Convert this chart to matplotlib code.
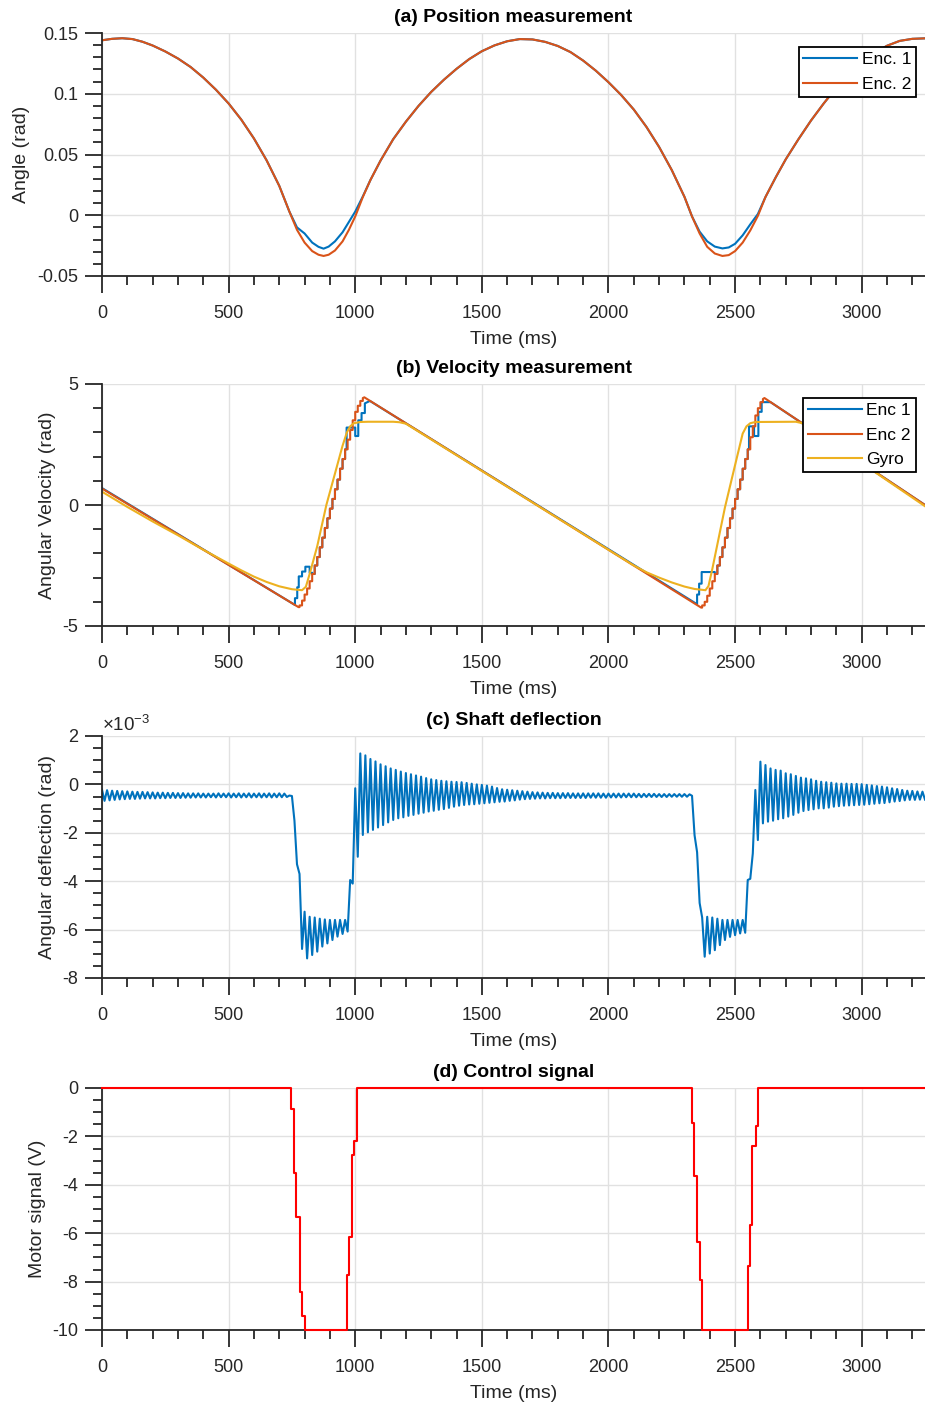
import numpy as np
import matplotlib
matplotlib.use("Agg")
import matplotlib.pyplot as plt
from matplotlib.ticker import MultipleLocator

plt.rcParams['font.family'] = ['Liberation Sans', 'DejaVu Sans']
plt.rcParams['axes.unicode_minus'] = False
plt.rcParams['mathtext.fontset'] = 'custom'
plt.rcParams['mathtext.rm'] = 'Liberation Sans'
plt.rcParams['mathtext.it'] = 'Liberation Sans:italic'

# ---------------- shared axis data ----------------
x_ticks = [0, 500, 1000, 1500, 2000, 2500, 3000]
x_tick_labels = ['0', '500', '1000', '1500', '2000', '2500', '3000']

# ---------------- (a) position ----------------
pos_t = [0, 40, 80, 120, 160, 200, 250, 300, 350, 400, 450, 500, 550, 600, 650,
         700, 740, 770, 800, 830, 855, 875, 895, 920, 950, 975, 1000, 1030, 1060,
         1100, 1150, 1200, 1250, 1300, 1350, 1400, 1450, 1500, 1550, 1600, 1650,
         1700, 1750, 1800, 1850, 1900, 1950, 2000, 2050, 2100, 2150, 2200, 2250,
         2300, 2330, 2360, 2390, 2420, 2450, 2475, 2500, 2530, 2560, 2590, 2620,
         2660, 2700, 2750, 2800, 2850, 2900, 2950, 3000, 3050, 3100, 3150, 3200, 3250]
pos_enc2 = [0.1440, 0.1452, 0.1457, 0.1450, 0.1428, 0.1397, 0.1348, 0.1290, 0.1220,
            0.1133, 0.1033, 0.0920, 0.0787, 0.0632, 0.0452, 0.0242, 0.0030, -0.0120,
            -0.0225, -0.0295, -0.0325, -0.0335, -0.0325, -0.0290, -0.0215, -0.0120,
            -0.0010, 0.0150, 0.0290, 0.0450, 0.0626, 0.0770, 0.0900, 0.1015, 0.1115,
            0.1205, 0.1285, 0.1350, 0.1398, 0.1432, 0.1450, 0.1447, 0.1427, 0.1393,
            0.1343, 0.1273, 0.1190, 0.1095, 0.0990, 0.0870, 0.0727, 0.0562, 0.0372,
            0.0152, -0.0010, -0.0150, -0.0260, -0.0315, -0.0335, -0.0328, -0.0295,
            -0.0225, -0.0125, -0.0005, 0.0150, 0.0310, 0.0460, 0.0625, 0.0780, 0.0920,
            0.1050, 0.1160, 0.1255, 0.1335, 0.1395, 0.1435, 0.1452, 0.1456]
pos_enc1 = [0.1440, 0.1452, 0.1457, 0.1450, 0.1428, 0.1397, 0.1348, 0.1290, 0.1220,
            0.1133, 0.1033, 0.0920, 0.0787, 0.0632, 0.0452, 0.0242, 0.0030, -0.0100,
            -0.0150, -0.0225, -0.0260, -0.0275, -0.0258, -0.0215, -0.0140, -0.0055,
            0.0030, 0.0155, 0.0290, 0.0450, 0.0626, 0.0770, 0.0900, 0.1015, 0.1115,
            0.1205, 0.1285, 0.1350, 0.1398, 0.1432, 0.1450, 0.1447, 0.1427, 0.1393,
            0.1343, 0.1273, 0.1190, 0.1095, 0.0990, 0.0870, 0.0727, 0.0562, 0.0372,
            0.0152, -0.0010, -0.0135, -0.0215, -0.0258, -0.0273, -0.0265, -0.0235,
            -0.0165, -0.0075, 0.0010, 0.0150, 0.0310, 0.0460, 0.0625, 0.0780, 0.0920,
            0.1050, 0.1160, 0.1255, 0.1335, 0.1395, 0.1435, 0.1452, 0.1456]
pos_yticks = [-0.05, 0, 0.05, 0.1, 0.15]
pos_ytick_labels = ['-0.05', '0', '0.05', '0.1', '0.15']

# ---------------- (b) velocity ----------------
enc2_desc0_t = [0, 776]
enc2_desc0_v = [0.68, -4.22]
enc2_rise1_t = [780, 790, 800, 810, 820, 830, 840, 850, 860, 870, 880, 890, 900,
                910, 920, 930, 940, 950, 960, 970, 980, 990, 1000, 1010, 1020, 1030]
enc2_rise1_v = [-4.15, -3.95, -3.7, -3.45, -3.15, -2.85, -2.5, -2.15, -1.75, -1.35,
                -0.95, -0.55, -0.15, 0.25, 0.65, 1.05, 1.5, 1.9, 2.3, 2.7, 3.1, 3.5,
                3.85, 4.1, 4.3, 4.42]
enc2_desc1_t = [1036, 2366]
enc2_desc1_v = [4.45, -4.24]
enc2_rise2_t = [2370, 2380, 2390, 2400, 2410, 2420, 2430, 2440, 2450, 2460, 2470,
                2480, 2490, 2500, 2510, 2520, 2530, 2540, 2550, 2560, 2570, 2580,
                2590, 2600, 2610]
enc2_rise2_v = [-4.15, -4.0, -3.75, -3.45, -3.15, -2.85, -2.5, -2.15, -1.75, -1.35,
                -0.95, -0.55, -0.15, 0.25, 0.65, 1.05, 1.5, 1.9, 2.3, 2.8, 3.25, 3.7,
                4.0, 4.25, 4.38]
enc2_desc2_t = [2616, 3250]
enc2_desc2_v = [4.42, 0.0]

enc1_desc0_t = [0, 762]
enc1_desc0_v = [0.70, -4.13]
enc1_rise1_t = [762, 771, 777, 790, 803, 820, 830, 840, 850, 860, 870, 880, 890, 900,
                910, 920, 930, 940, 950, 960, 966, 1000, 1012, 1025, 1038]
enc1_rise1_v = [-3.85, -3.4, -2.95, -2.75, -2.55, -2.8, -2.85, -2.5, -2.15, -1.75,
                -1.35, -0.95, -0.55, -0.15, 0.25, 0.65, 1.05, 1.5, 1.9, 2.3, 3.2,
                2.85, 3.5, 3.8, 4.2]
enc1_desc1_t = [1058, 2350]
enc1_desc1_v = [4.30, -4.10]
enc1_rise2_t = [2350, 2358, 2368, 2420, 2430, 2440, 2450, 2460, 2470, 2480, 2490,
                2500, 2510, 2520, 2530, 2540, 2550, 2555, 2575, 2592, 2605]
enc1_rise2_v = [-3.7, -3.25, -2.77, -2.85, -2.5, -2.15, -1.75, -1.35, -0.95, -0.55,
                -0.15, 0.25, 0.65, 1.05, 1.5, 1.9, 2.3, 3.25, 2.85, 3.85, 4.25]
enc1_desc2_t = [2640, 3250]
enc1_desc2_v = [4.25, 0.0]

gyro_t = [0, 100, 200, 300, 400, 500, 550, 600, 650, 700, 750, 790, 805, 820, 850,
          886, 920, 950, 967, 980, 995, 1020, 1050, 1150, 1175, 1200, 2100, 2150,
          2200, 2250, 2300, 2340, 2383, 2395, 2410, 2460, 2500, 2530, 2545, 2560,
          2580, 2740, 2770, 3250]
gyro_v = [0.55, -0.08, -0.68, -1.25, -1.85, -2.42, -2.70, -2.96, -3.18, -3.36, -3.48,
          -3.52, -3.38, -2.85, -1.70, 0.0, 1.3, 2.45, 3.0, 3.25, 3.38, 3.43, 3.44,
          3.44, 3.42, 3.36, -2.50, -2.78, -3.0, -3.2, -3.37, -3.47, -3.52, -3.35,
          -2.65, -0.1, 1.65, 2.95, 3.25, 3.38, 3.43, 3.44, 3.37, -0.05]
vel_yticks = [-5, 0, 5]
vel_ytick_labels = ['-5', '0', '5']

# ---------------- (c) shaft deflection (x 1e-3 rad), sampled every 10 ms ----------------
defl_t = np.arange(0, 3251, 10)
defl_v = [
    -0.22, -0.68, -0.24, -0.66, -0.26, -0.64, -0.27, -0.62, -0.28, -0.61,
    -0.29, -0.60, -0.30, -0.60, -0.31, -0.59, -0.31, -0.58, -0.32, -0.58,
    -0.33, -0.58, -0.34, -0.57, -0.34, -0.57, -0.35, -0.56, -0.35, -0.56,
    -0.36, -0.56, -0.36, -0.55, -0.37, -0.55, -0.37, -0.54, -0.37, -0.54,
    -0.38, -0.54, -0.38, -0.53, -0.38, -0.54, -0.37, -0.53, -0.38, -0.53,
    -0.37, -0.54, -0.38, -0.53, -0.37, -0.54, -0.38, -0.53, -0.37, -0.54,
    -0.38, -0.53, -0.37, -0.54, -0.38, -0.53, -0.37, -0.54, -0.38, -0.53,
    -0.37, -0.53, -0.38, -0.52, -0.46, -0.48, -1.50, -3.30, -3.70, -6.80,
    -5.26, -7.19, -5.47, -7.05, -5.50, -6.91, -5.55, -6.70, -5.58, -6.57,
    -5.60, -6.43, -5.60, -6.29, -5.60, -6.18, -5.60, -6.08, -3.95, -4.10,
    -0.16, -2.99, 1.28, -2.09, 1.20, -1.98, 1.05, -1.88, 0.95, -1.78,
    0.83, -1.68, 0.75, -1.57, 0.66, -1.47, 0.60, -1.40, 0.53, -1.36,
    0.47, -1.30, 0.42, -1.26, 0.37, -1.21, 0.32, -1.17, 0.26, -1.12,
    0.21, -1.09, 0.18, -1.05, 0.15, -1.02, 0.13, -0.97, 0.11, -0.92,
    0.10, -0.88, 0.09, -0.85, 0.06, -0.83, 0.03, -0.82, 0.00, -0.80,
    -0.02, -0.78, -0.05, -0.76, -0.09, -0.74, -0.15, -0.72, -0.20, -0.71,
    -0.22, -0.68, -0.24, -0.66, -0.26, -0.63, -0.28, -0.61, -0.30, -0.60,
    -0.32, -0.59, -0.33, -0.58, -0.34, -0.58, -0.35, -0.57, -0.35, -0.57,
    -0.36, -0.57, -0.36, -0.56, -0.36, -0.56, -0.37, -0.56, -0.37, -0.56,
    -0.37, -0.56, -0.37, -0.55, -0.37, -0.55, -0.37, -0.55, -0.38, -0.55,
    -0.38, -0.54, -0.38, -0.54, -0.38, -0.54, -0.38, -0.53, -0.38, -0.53,
    -0.38, -0.53, -0.39, -0.53, -0.39, -0.52, -0.39, -0.52, -0.39, -0.52,
    -0.40, -0.52, -0.40, -0.52, -0.40, -0.51, -0.40, -0.51, -0.40, -0.51,
    -0.40, -0.51, -0.41, -0.47, -2.10, -2.80, -4.90, -5.50, -7.12, -5.47,
    -6.99, -5.50, -6.85, -5.55, -6.64, -5.60, -6.43, -5.60, -6.30, -5.60,
    -6.23, -5.60, -6.16, -5.60, -6.13, -3.95, -3.90, -2.85, -0.23, -2.30,
    0.94, -1.61, 0.80, -1.54, 0.66, -1.50, 0.60, -1.44, 0.57, -1.40,
    0.46, -1.33, 0.42, -1.26, 0.35, -1.17, 0.28, -1.10, 0.25, -1.06,
    0.21, -1.03, 0.15, -0.99, 0.11, -0.99, 0.09, -0.96, 0.07, -0.92,
    0.04, -0.90, 0.03, -0.88, 0.03, -0.87, 0.02, -0.86, 0.02, -0.85,
    0.01, -0.84, -0.02, -0.82, -0.04, -0.80, -0.07, -0.78, -0.09, -0.77,
    -0.12, -0.74, -0.16, -0.71, -0.19, -0.69, -0.23, -0.66, -0.26, -0.64,
    -0.27, -0.64, -0.29, -0.63, -0.30, -0.63,
]
defl_yticks = [-8, -6, -4, -2, 0, 2]
defl_ytick_labels = ['-8', '-6', '-4', '-2', '0', '2']

# ---------------- (d) control signal (step changes) ----------------
ctrl_t = [0, 747, 757, 767, 780, 789, 800, 967, 976, 987, 997, 1007,
          2328, 2337, 2348, 2361, 2370, 2551, 2559, 2568, 2581, 2590, 3250]
ctrl_v = [0, -0.87, -3.5, -5.32, -8.42, -9.42, -10, -7.73, -6.14, -2.77, -2.19, 0,
          -1.46, -3.64, -6.35, -7.93, -10, -7.34, -5.66, -2.38, -1.57, 0, 0]
ctrl_yticks = [-10, -8, -6, -4, -2, 0]
ctrl_ytick_labels = ['-10', '-8', '-6', '-4', '-2', '0']

# ---------------- helpers ----------------
def compose(segments):
    xs, ys = [], []
    for kind, ts, vs in segments:
        if kind == 'line':
            xs += list(ts)
            ys += list(vs)
        else:
            for t, v in zip(ts, vs):
                if xs:
                    xs.append(t)
                    ys.append(ys[-1])
                xs.append(t)
                ys.append(v)
    return xs, ys


AX_COLOR = '#262626'
GRID_COLOR = '#e1e1e1'
C_BLUE = '#0072BD'
C_ORANGE = '#D95319'
C_YELLOW = '#EDB120'
C_RED = '#FF0000'
LW = 1.5


def style_axes(ax, ylim, yticks, ylabels, yminor, title, ylabel, ylabel_x):
    ax.set_xlim(0, 3250)
    ax.set_ylim(*ylim)
    ax.set_xticks(x_ticks)
    ax.set_xticklabels(x_tick_labels)
    ax.xaxis.set_minor_locator(MultipleLocator(100))
    ax.set_yticks(yticks)
    ax.set_yticklabels(ylabels)
    ax.yaxis.set_minor_locator(MultipleLocator(yminor))
    for s in ['top', 'right']:
        ax.spines[s].set_visible(False)
    for s in ['left', 'bottom']:
        ax.spines[s].set_color(AX_COLOR)
        ax.spines[s].set_linewidth(1.3)
    ax.tick_params(which='major', direction='out', length=12, width=1.3,
                   color=AX_COLOR, labelcolor=AX_COLOR, labelsize=13)
    ax.tick_params(axis='x', which='major', pad=9)
    ax.tick_params(axis='y', which='major', pad=5)
    ax.tick_params(which='minor', direction='out', length=6.7, width=1.3, color=AX_COLOR)
    ax.grid(True, which='major', color=GRID_COLOR, lw=1.0)
    ax.set_axisbelow(True)
    ax.set_title(title, fontsize=14, fontweight='bold', pad=8, color='black')
    ax.set_xlabel('Time (ms)', fontsize=14, color=AX_COLOR)
    ax.xaxis.set_label_coords(0.5, -0.226)
    ax.set_ylabel(ylabel, fontsize=14, color=AX_COLOR)
    ax.yaxis.set_label_coords(ylabel_x, 0.5)


def style_legend(leg):
    fr = leg.get_frame()
    fr.set_edgecolor('black')
    fr.set_linewidth(1.3)
    fr.set_facecolor('white')
    fr.set_alpha(1)


fig = plt.figure(figsize=(9.25, 14.03), dpi=100)
L, W = 102 / 925, 823 / 925
ax_a = fig.add_axes([L, 1 - 276 / 1403, W, 243 / 1403])
ax_b = fig.add_axes([L, 1 - 626 / 1403, W, 242 / 1403])
ax_c = fig.add_axes([L, 1 - 978 / 1403, W, 242 / 1403])
ax_d = fig.add_axes([L, 1 - 1330 / 1403, W, 242 / 1403])

leg_kw = dict(loc='upper right', fontsize=12.5, handlelength=3.1, handletextpad=0.25,
              borderpad=0.28, labelspacing=0.55, borderaxespad=0, fancybox=False,
              framealpha=1)

# (a)
ax_a.plot(pos_t, pos_enc1, color=C_BLUE, lw=LW, label='Enc. 1')
ax_a.plot(pos_t, pos_enc2, color=C_ORANGE, lw=LW, label='Enc. 2')
style_axes(ax_a, (-0.05, 0.15), pos_yticks, pos_ytick_labels, 0.01,
           '(a) Position measurement', 'Angle (rad)', -0.0875)
style_legend(ax_a.legend(bbox_to_anchor=(0.989, 0.942), **leg_kw))

# (b)
e1x, e1y = compose([('line', enc1_desc0_t, enc1_desc0_v), ('step', enc1_rise1_t, enc1_rise1_v),
                    ('line', enc1_desc1_t, enc1_desc1_v), ('step', enc1_rise2_t, enc1_rise2_v),
                    ('line', enc1_desc2_t, enc1_desc2_v)])
e2x, e2y = compose([('line', enc2_desc0_t, enc2_desc0_v), ('step', enc2_rise1_t, enc2_rise1_v),
                    ('line', enc2_desc1_t, enc2_desc1_v), ('step', enc2_rise2_t, enc2_rise2_v),
                    ('line', enc2_desc2_t, enc2_desc2_v)])
ax_b.plot(e1x, e1y, color=C_BLUE, lw=LW, label='Enc 1')
ax_b.plot(e2x, e2y, color=C_ORANGE, lw=LW, label='Enc 2')
ax_b.plot(gyro_t, gyro_v, color=C_YELLOW, lw=LW, label='Gyro')
style_axes(ax_b, (-5, 5), vel_yticks, vel_ytick_labels, 1,
           '(b) Velocity measurement', 'Angular Velocity (rad)', -0.0559)
style_legend(ax_b.legend(bbox_to_anchor=(0.989, 0.942), **leg_kw))

# (c)
ax_c.plot(defl_t, defl_v, color=C_BLUE, lw=LW)
style_axes(ax_c, (-8, 2), defl_yticks, defl_ytick_labels, 0.5,
           '(c) Shaft deflection', 'Angular deflection (rad)', -0.0559)
ax_c.annotate(r'$\times10^{-3}$', xy=(0, 1), xycoords='axes fraction',
              xytext=(0, 1), textcoords='offset points', ha='left', va='bottom',
              fontsize=13.5, color=AX_COLOR)

# (d)
ax_d.step(ctrl_t, ctrl_v, where='post', color=C_RED, lw=LW, clip_on=False, zorder=3)
style_axes(ax_d, (-10, 0), ctrl_yticks, ctrl_ytick_labels, 0.5,
           '(d) Control signal', 'Motor signal (V)', -0.068)

fig.savefig('out.png', dpi=100)
